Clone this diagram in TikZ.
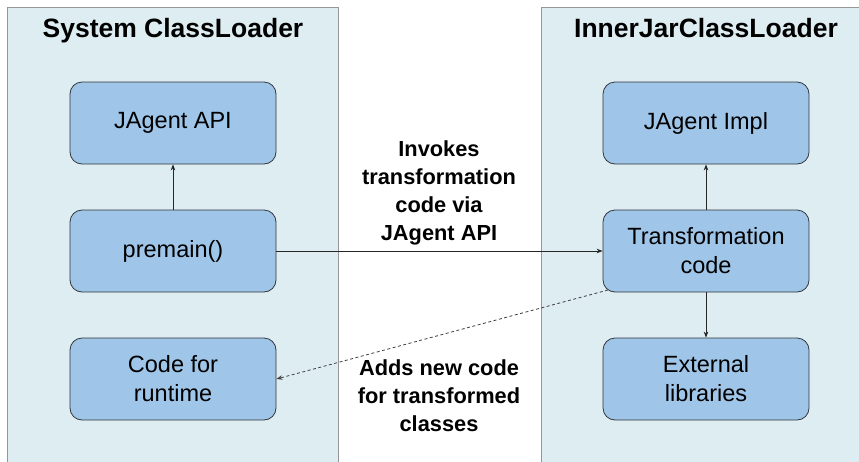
\documentclass[tikz,border=0pt]{standalone}
\usepackage{fontspec}
\setmainfont{Liberation Sans}
\usetikzlibrary{arrows.meta}
\definecolor{panelfill}{RGB}{221,237,242}
\definecolor{panelline}{RGB}{150,150,150}
\definecolor{boxfill}{RGB}{159,197,232}
\definecolor{boxline}{RGB}{50,55,60}
\tikzset{
  panel/.style={fill=panelfill, draw=panelline, line width=1pt},
  box/.style={draw=boxline, fill=boxfill, line width=0.8pt, rounded corners=12pt,
    minimum width=206pt, minimum height=82pt, inner sep=2pt, align=center,
    font=\fontsize{23.5}{29}\selectfont},
  paneltitle/.style={anchor=base, font=\fontsize{26.5}{30}\selectfont\bfseries},
  lbl/.style={align=center, font=\fontsize{21.8}{27.7}\selectfont\bfseries},
  conn/.style={draw=black!85, line width=0.8pt, -{Stealth[length=6pt,width=4.5pt]}},
  dconn/.style={conn, draw=black!75, dash pattern=on 3pt off 2.5pt}
}
\begin{document}
\begin{tikzpicture}[x=1pt,y=-1pt]
\useasboundingbox (0,0) rectangle (859,461);
\fill[white] (0,0) rectangle (859,461);
\path[panel] (7,475) -- (7,7) -- (338,7) -- (338,475);
\path[panel] (541,475) -- (541,7) -- (875,7) -- (875,475);
\node[paneltitle] (t1) at (173,37) {System ClassLoader};
\node[paneltitle] (t2) at (706,37) {InnerJarClassLoader};
\node[box] (api) at (173,123) {JAgent API};
\node[box] (pre) at (173,251) {premain()};
\node[box] (rt) at (173,379) {Code for\\runtime};
\node[box] (impl) at (706,123) {JAgent Impl};
\node[box] (tc) at (706,251) {Transformation\\code};
\node[box] (ext) at (706,379) {External\\libraries};
\node[lbl, anchor=base] (l1) at (439,240) {Invokes\\transformation\\code via\\JAgent API};
\node[lbl, anchor=base] (l2) at (439,431) {Adds new code\\for transformed\\classes};
\draw[conn] (pre.north) -- (api.south);
\draw[conn] (tc.north) -- (impl.south);
\draw[conn] (tc.south) -- (ext.north);
\draw[conn] (pre.east) -- (tc.west);
\coordinate (ds) at (608,290);
\draw[dconn] (ds) -- (rt.east);
\end{tikzpicture}
\end{document}
